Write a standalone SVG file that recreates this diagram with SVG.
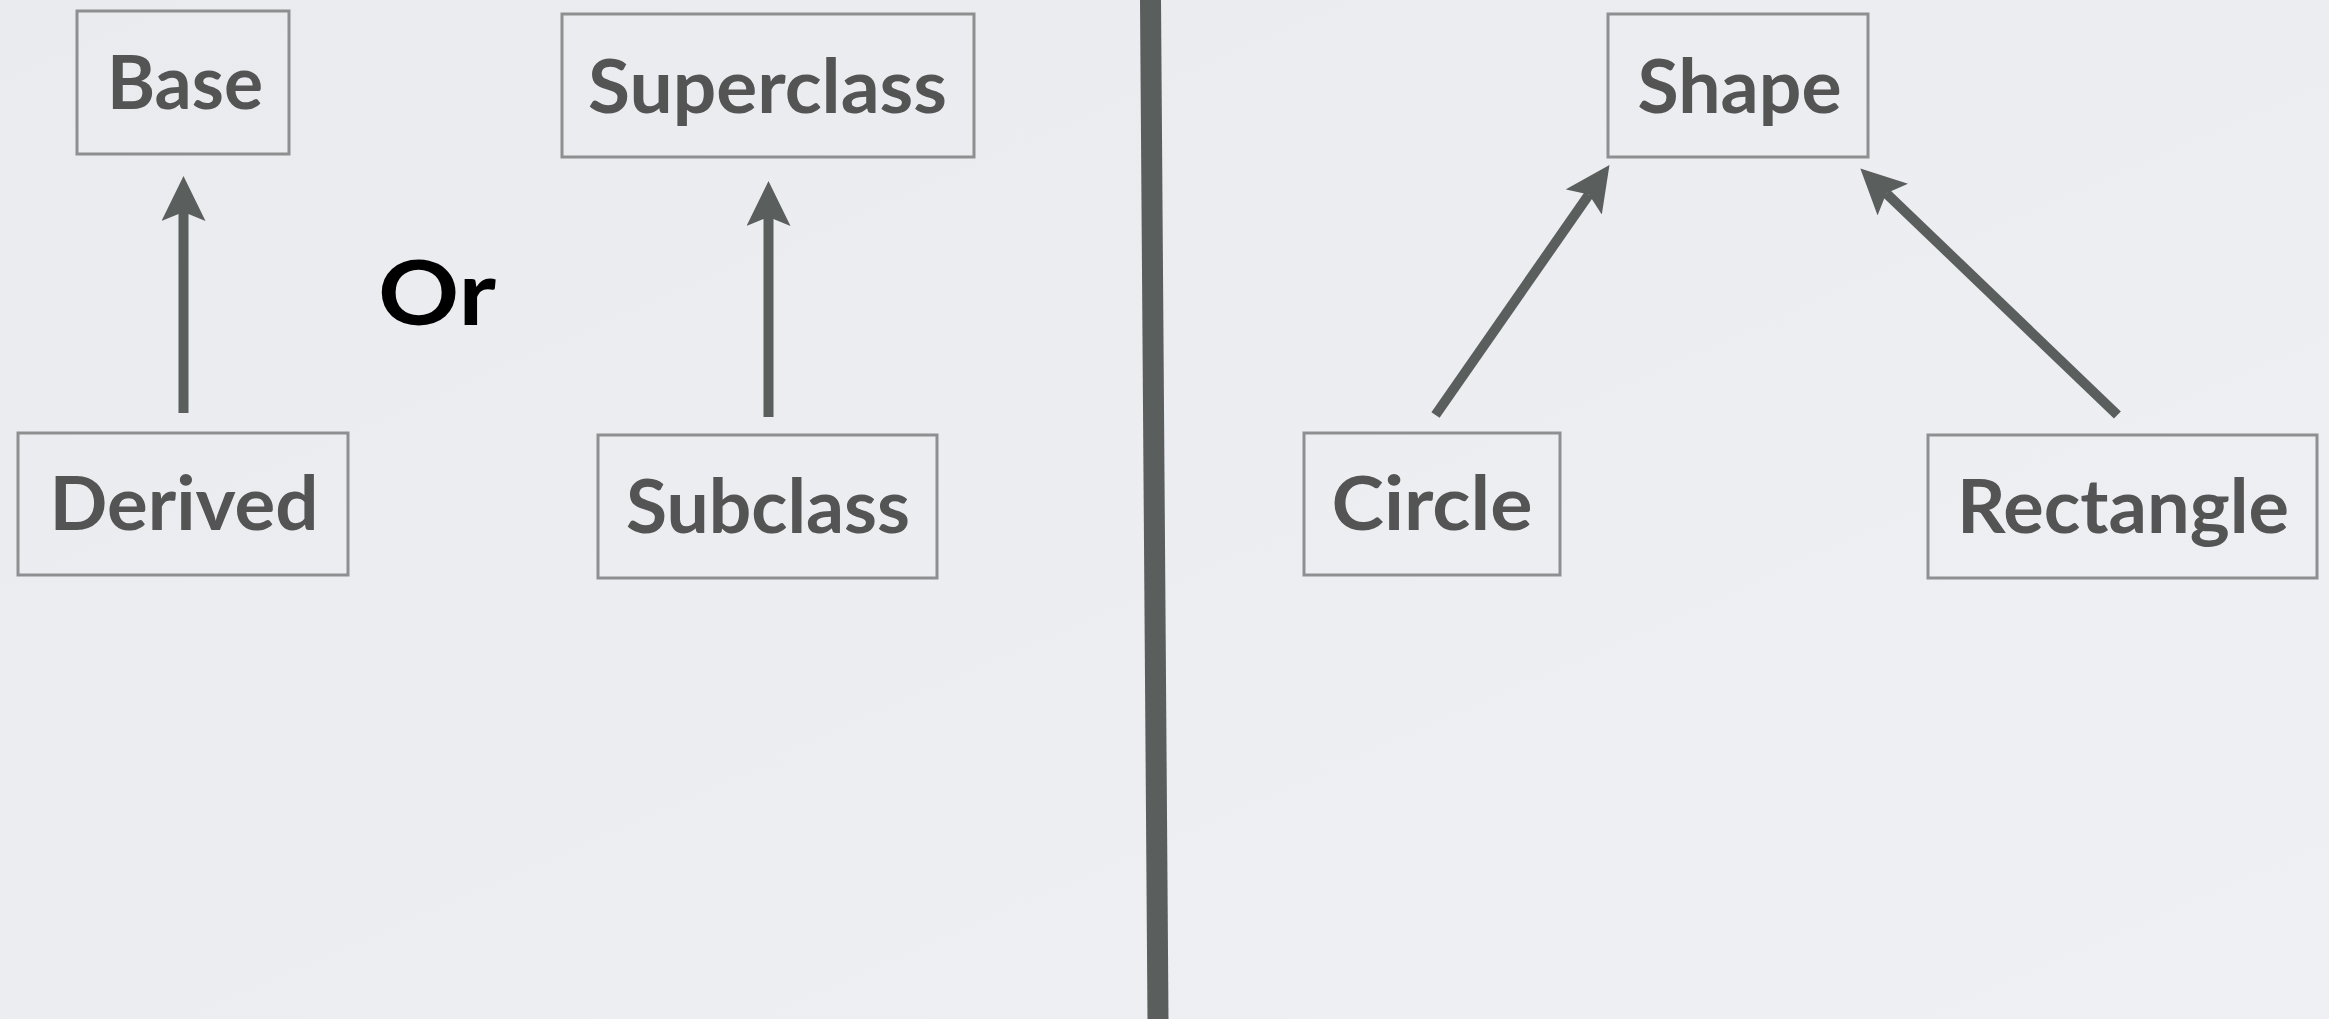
<svg xmlns="http://www.w3.org/2000/svg" width="2329" height="1019" viewBox="0 0 2329 1019">
<style>
.box{fill:none;stroke:#8e8f90;stroke-width:3}
.lbl{font-family:Lato,"Open Sans","Liberation Sans",sans-serif;font-weight:700;font-size:75px;fill:#545454;text-anchor:middle}
.or{font-family:Lato,"Open Sans","Liberation Sans",sans-serif;font-weight:700;font-size:90px;fill:#000000}
.conn{stroke:#5a5e5d;stroke-width:10;fill:none;marker-end:url(#arr)}
</style>
<defs>
<linearGradient id="bg" x1="0" y1="0" x2="1" y2="1">
<stop offset="0" stop-color="#e9ebee"/>
<stop offset="1" stop-color="#eef0f3"/>
</linearGradient>
<marker id="arr" viewBox="0 0 45 44" refX="9" refY="22" markerWidth="45" markerHeight="44" markerUnits="userSpaceOnUse" orient="auto">
<path d="M0,0 L45,22 L0,44 L9,22 z" fill="#5a5e5d"/>
</marker>
</defs>
<rect x="0" y="0" width="2329" height="1019" fill="url(#bg)"/>
<line x1="1150.5" y1="0" x2="1158" y2="1019" stroke="#5a5e5d" stroke-width="21"/>
<g id="or"><text class="or" x="378" y="325" textLength="118" lengthAdjust="spacingAndGlyphs">Or</text></g>
<g id="base"><rect class="box" x="77" y="11" width="212" height="143"/><text class="lbl" x="185" y="109" textLength="156" lengthAdjust="spacingAndGlyphs">Base</text></g>
<g id="superclass"><rect class="box" x="562" y="14" width="412" height="143"/><text class="lbl" x="767.5" y="113" textLength="359" lengthAdjust="spacingAndGlyphs">Superclass</text></g>
<g id="derived"><rect class="box" x="18" y="433" width="330" height="142"/><text class="lbl" x="184" y="530" textLength="269" lengthAdjust="spacingAndGlyphs">Derived</text></g>
<g id="subclass"><rect class="box" x="598" y="435" width="339" height="143"/><text class="lbl" x="768" y="533" textLength="284" lengthAdjust="spacingAndGlyphs">Subclass</text></g>
<g id="shape"><rect class="box" x="1608" y="14" width="260" height="143"/><text class="lbl" x="1739.5" y="113" textLength="204" lengthAdjust="spacingAndGlyphs">Shape</text></g>
<g id="circle"><rect class="box" x="1304" y="433" width="256" height="142"/><text class="lbl" x="1432" y="530" textLength="201" lengthAdjust="spacingAndGlyphs">Circle</text></g>
<g id="rectangle"><rect class="box" x="1928" y="435" width="389" height="143"/><text class="lbl" x="2123" y="533" textLength="332" lengthAdjust="spacingAndGlyphs">Rectangle</text></g>
<g id="connectors">
<line class="conn" x1="183.5" y1="413" x2="183.5" y2="212"/>
<line class="conn" x1="768.5" y1="417" x2="768.5" y2="217"/>
<line class="conn" x1="1435.5" y1="415" x2="1588.9" y2="194.6"/>
<line class="conn" x1="2117.4" y1="415" x2="1886.3" y2="193.3"/>
</g>
</svg>
